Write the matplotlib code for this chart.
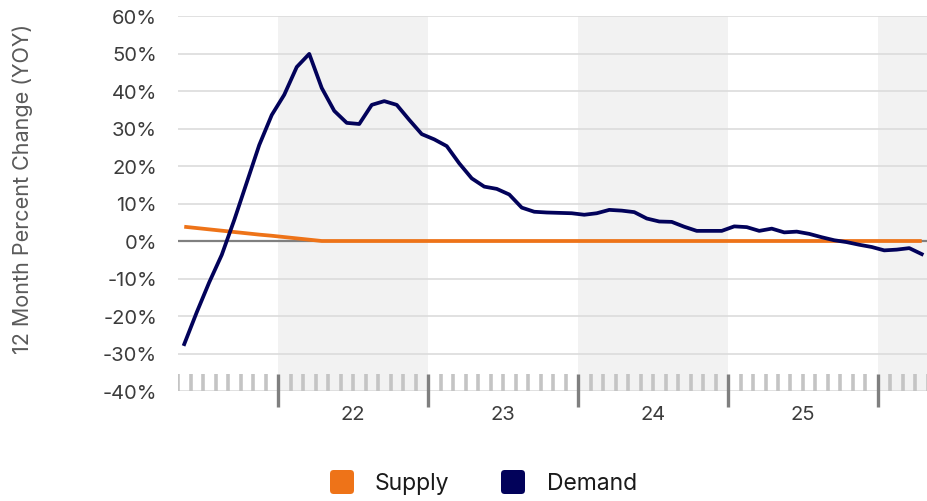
import matplotlib
matplotlib.use("Agg")
import matplotlib.pyplot as plt
from matplotlib.patches import FancyBboxPatch
import numpy as np

plt.rcParams['font.family'] = ['Inter', 'DejaVu Sans']

# Months since Jan 2022 (month start index); values plotted at mid-month
month_index = list(range(-8, 52))  # May 2021 .. Apr 2026

demand = [-27.5, -19.0, -11.0, -3.7, 5.6, 15.6, 25.6, 33.6,
          39.0, 46.4, 49.9, 40.8, 34.7, 31.5, 31.2, 36.3,
          37.3, 36.3, 32.3, 28.5, 27.1, 25.3, 20.7, 16.7,
          14.5, 13.9, 12.4, 8.9, 7.8, 7.6, 7.5, 7.4,
          7.0, 7.4, 8.3, 8.1, 7.7, 6.0, 5.2, 5.1,
          3.8, 2.7, 2.7, 2.7, 3.9, 3.7, 2.7, 3.3,
          2.3, 2.5, 1.9, 1.0, 0.2, -0.3, -1.0, -1.6,
          -2.5, -2.3, -1.9, -3.5]

supply = [3.8, 3.45, 3.1, 2.75, 2.4, 2.05, 1.7, 1.4, 1.05, 0.7, 0.35, 0.0] + [0.0] * 48

year_labels = ['22', '23', '24', '25']
year_label_pos = [6, 18, 30, 42]
year_bounds = [0, 12, 24, 36, 48]
shaded_years = [(0, 12), (24, 36), (48, 52)]

y_ticks = [60, 50, 40, 30, 20, 10, 0, -10, -20, -30, -40]

SUPPLY_C = '#EE7318'
DEMAND_C = '#02025A'

W, H = 928, 502
fig = plt.figure(figsize=(W / 100, H / 100), dpi=100)
ax = fig.add_axes([178 / W, 1 - 392 / H, 750 / W, 375 / H])
ax.set_xlim(-8, 52)
ax.set_ylim(-40, 60)

for a, b in shaded_years:
    ax.axvspan(a, b, color='#f2f2f2', zorder=0, lw=0)

for yv in y_ticks:
    if yv == 0:
        continue
    ax.axhline(yv, color='#dcdcdc', lw=1.2, zorder=1)

# bottom tick strip
minor = [m for m in range(-8, 53) if m not in year_bounds]
ax.vlines(minor, -40, -35.5, color='#c4c4c4', lw=2.6, zorder=2)
ax.vlines(year_bounds, -44.2, -35.5, color='#7f7f7f', lw=2.4, zorder=3, clip_on=False)

ax.axhline(0, color='#808080', lw=1.6, zorder=2)

x = np.array(month_index) + 0.5
ax.plot(x, supply, color=SUPPLY_C, lw=2.7, zorder=4, solid_capstyle='butt')
ax.plot(x, demand, color=DEMAND_C, lw=2.7, zorder=5)

for s in ax.spines.values():
    s.set_visible(False)

ax.set_yticks(y_ticks)
ax.set_yticklabels([f'{v}%' for v in y_ticks])
ax.tick_params(axis='y', length=0, pad=15, labelsize=14.5, labelcolor='#3c3c3c')
ax.set_xticks(year_label_pos)
ax.set_xticklabels(year_labels)
ax.tick_params(axis='x', length=0, pad=10, labelsize=14.5, labelcolor='#3c3c3c')

fig.text(23 / W, 1 - 189 / H, '12 Month Percent Change (YOY)', rotation=90,
         ha='center', va='center', fontsize=15.5, color='#5a5a5a')

# legend
def legend_item(x0, color, label, tx):
    p = FancyBboxPatch((x0 / W, 1 - 495 / H), 24 / W, 24 / H,
                       boxstyle='round,pad=0,rounding_size=0.004',
                       transform=fig.transFigure, facecolor=color, edgecolor='none',
                       mutation_aspect=W / H)
    fig.patches.append(p)
    fig.text(tx / W, 1 - 484 / H, label, ha='left', va='center', fontsize=16.5, color='#1a1a1a')

legend_item(330, SUPPLY_C, 'Supply', 375)
legend_item(501, DEMAND_C, 'Demand', 547)

fig.savefig('out.png', dpi=100)
